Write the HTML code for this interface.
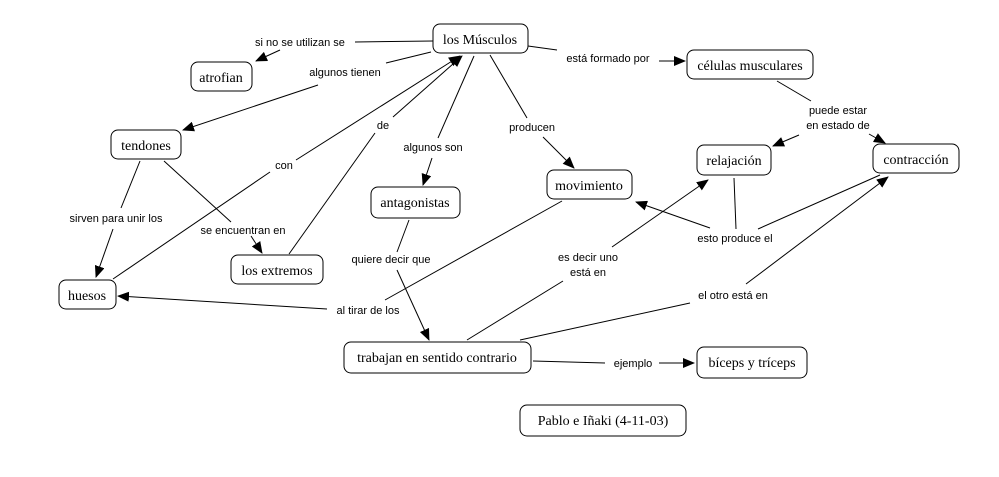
<!DOCTYPE html>
<html><head><meta charset="utf-8"><style>
body{margin:0;background:#fff}
svg{display:block}
.n{fill:#fff;stroke:#000;stroke-width:1}
.t{font-family:"Liberation Serif",serif;font-size:14px;text-anchor:middle}
.l{font-family:"Liberation Sans",sans-serif;font-size:11px;text-anchor:middle}
line{stroke:#000;stroke-width:1}
.a{marker-end:url(#ar)}
</style></head><body>
<svg width="999" height="477" viewBox="0 0 999 477">
<defs><marker id="ar" markerWidth="12" markerHeight="10" refX="11" refY="5" orient="auto" markerUnits="userSpaceOnUse"><path d="M0,0 L12,5 L0,10 z" fill="#000"/></marker></defs>
<line x1="433" y1="41" x2="355" y2="42"/><line class="a" x1="280" y1="50" x2="256" y2="61"/>
<line x1="431" y1="52" x2="386" y2="63"/><line class="a" x1="318" y1="85" x2="183" y2="130"/>
<line x1="528" y1="46" x2="557" y2="50"/><line class="a" x1="659" y1="61" x2="685" y2="61"/>
<line x1="474" y1="56" x2="438" y2="138"/><line class="a" x1="432" y1="158" x2="423" y2="185"/>
<line x1="490" y1="55" x2="527" y2="118"/><line class="a" x1="543" y1="137" x2="574" y2="168"/>
<line x1="113" y1="279" x2="270" y2="172"/><line class="a" x1="296" y1="160" x2="460" y2="56"/>
<line x1="289" y1="254" x2="375" y2="133"/><line class="a" x1="393" y1="117" x2="462" y2="56"/>
<line x1="140" y1="161" x2="121" y2="208"/><line class="a" x1="113" y1="229" x2="96" y2="277"/>
<line x1="164" y1="161" x2="231" y2="222"/><line class="a" x1="251" y1="236" x2="262" y2="253"/>
<line x1="777" y1="81" x2="811" y2="101"/><line class="a" x1="799" y1="135" x2="773" y2="146"/><line class="a" x1="869" y1="134" x2="885" y2="143"/>
<line x1="409" y1="220" x2="397" y2="252"/><line class="a" x1="397" y1="270" x2="429" y2="340"/>
<line x1="562" y1="201" x2="385" y2="300"/><line class="a" x1="327" y1="309" x2="118" y2="296"/>
<line x1="467" y1="340" x2="563" y2="281"/><line class="a" x1="612" y1="247" x2="708" y2="180"/>
<line x1="734" y1="178" x2="736" y2="229"/><line class="a" x1="710" y1="228" x2="636" y2="202"/><line x1="758" y1="229" x2="880" y2="175"/>
<line x1="520" y1="340" x2="690" y2="303"/><line class="a" x1="746" y1="284" x2="888" y2="177"/>
<line x1="533" y1="361" x2="605" y2="363"/><line class="a" x1="659" y1="363" x2="694" y2="363"/>

<rect class="n" x="433" y="24" width="95" height="29" rx="7"/><text class="t" x="480" y="44">los Músculos</text>
<rect class="n" x="191" y="62" width="61" height="29" rx="7"/><text class="t" x="221" y="82">atrofian</text>
<rect class="n" x="687" y="50" width="126" height="29" rx="7"/><text class="t" x="750" y="70">células musculares</text>
<rect class="n" x="111" y="130" width="70" height="29" rx="7"/><text class="t" x="146" y="150">tendones</text>
<rect class="n" x="697" y="145" width="74" height="30" rx="7"/><text class="t" x="734" y="165">relajación</text>
<rect class="n" x="873" y="144" width="86" height="29" rx="7"/><text class="t" x="916" y="164">contracción</text>
<rect class="n" x="547" y="170" width="85" height="29" rx="7"/><text class="t" x="589" y="190">movimiento</text>
<rect class="n" x="371" y="187" width="89" height="31" rx="7"/><text class="t" x="415" y="207">antagonistas</text>
<rect class="n" x="231" y="255" width="92" height="29" rx="7"/><text class="t" x="277" y="275">los extremos</text>
<rect class="n" x="59" y="280" width="57" height="29" rx="7"/><text class="t" x="87" y="300">huesos</text>
<rect class="n" x="344" y="342" width="187" height="31" rx="7"/><text class="t" x="437" y="362">trabajan en sentido contrario</text>
<rect class="n" x="697" y="347" width="110" height="31" rx="7"/><text class="t" x="752" y="367">bíceps y tríceps</text>
<rect class="n" x="520" y="405" width="166" height="31" rx="7"/><text class="t" x="603" y="425">Pablo e Iñaki (4-11-03)</text>

<text class="l" x="300" y="46">si no se utilizan se</text>
<text class="l" x="345" y="76">algunos tienen</text>
<text class="l" x="608" y="62">está formado por</text>
<text class="l" x="838" y="114">puede estar</text>
<text class="l" x="838" y="129">en estado de</text>
<text class="l" x="532" y="131">producen</text>
<text class="l" x="433" y="151">algunos son</text>
<text class="l" x="383" y="129">de</text>
<text class="l" x="284" y="169">con</text>
<text class="l" x="116" y="222">sirven para unir los</text>
<text class="l" x="243" y="234">se encuentran en</text>
<text class="l" x="391" y="263">quiere decir que</text>
<text class="l" x="588" y="261">es decir uno</text>
<text class="l" x="588" y="276">está en</text>
<text class="l" x="735" y="242">esto produce el</text>
<text class="l" x="733" y="299">el otro está en</text>
<text class="l" x="368" y="314">al tirar  de los</text>
<text class="l" x="633" y="367">ejemplo</text>
</svg>
</body></html>
